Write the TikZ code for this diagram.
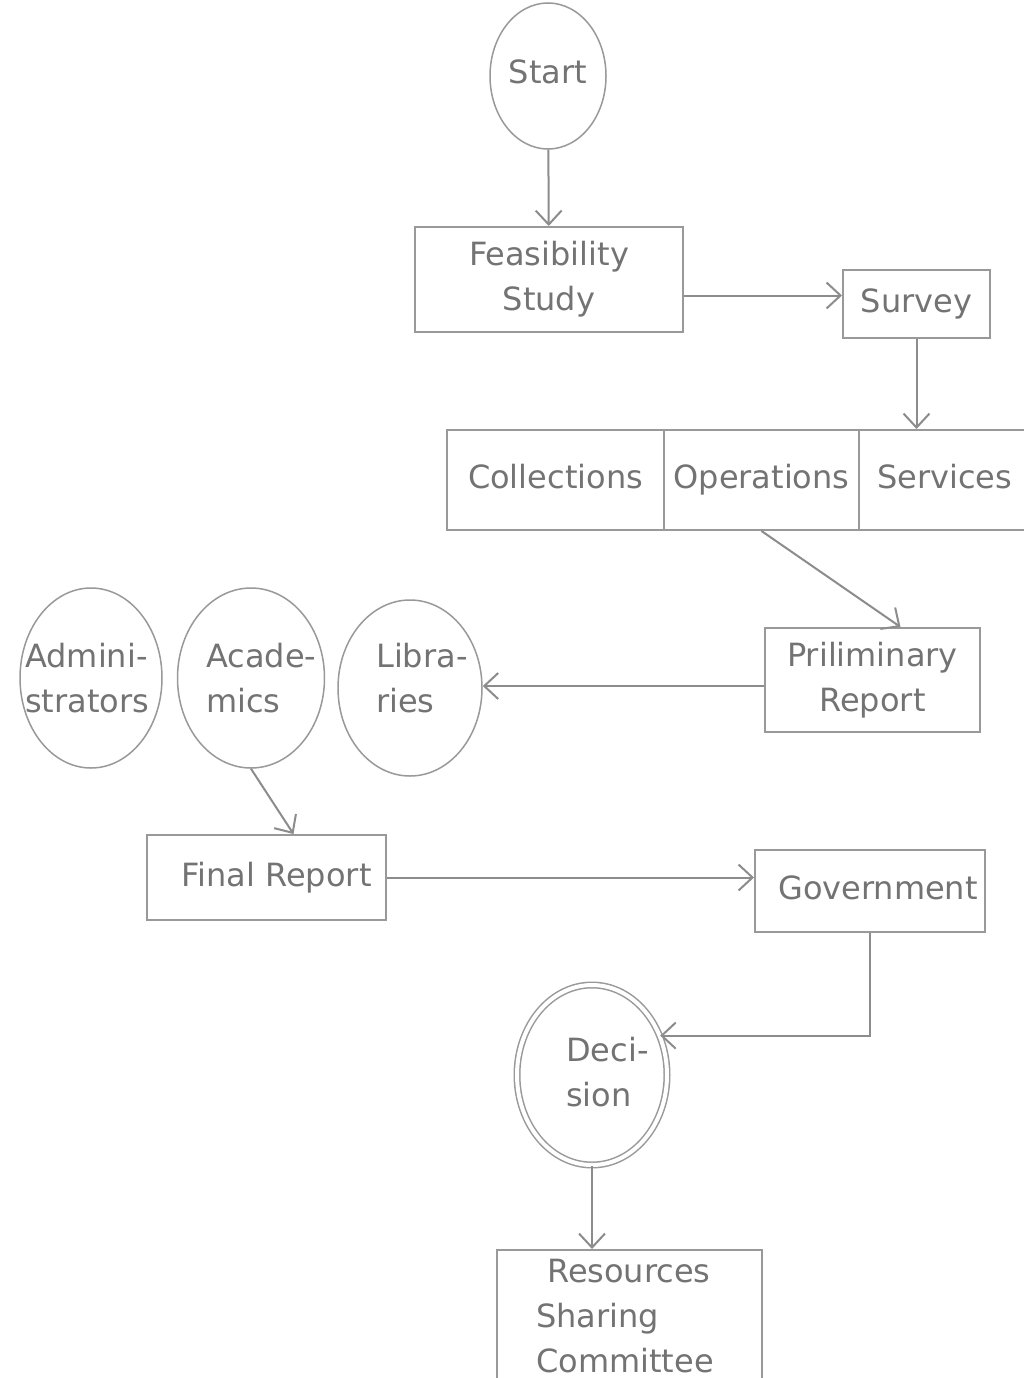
\documentclass[tikz,border=0pt]{standalone}
\usepackage{fontspec}
\setmainfont{DejaVu Sans}
\usetikzlibrary{shapes.geometric,arrows.meta}
\begin{document}
\begin{tikzpicture}[x=1pt,y=-1pt,
  lbl/.style={font=\fontsize{32}{45}\selectfont, text=black!55, inner sep=0pt, align=left},
  box/.style={draw=black!40, line width=2pt, rectangle, inner sep=0pt, align=center,
              font=\fontsize{32}{45}\selectfont, text=black!55},
  oneline/.style={text height=24pt, text depth=7pt},
  oval/.style={draw=black!40, line width=1.5pt, ellipse, inner sep=0pt},
  arr/.style={draw=black!45, line width=2pt, -{Straight Barb[length=14pt,width=26pt]}}]
\useasboundingbox (0,0) rectangle (1024,1378);
\fill[white] (0,0) rectangle (1024,1378);

% nodes
\node[oval, minimum width=116pt, minimum height=146pt] (start) at (548,76) {};
\node[lbl] (startt) at (548,72) {Start};

\node[box, minimum width=268pt, minimum height=105pt] (feas) at (549,279.5) {Feasibility\\Study};
\node[box, oneline, minimum width=147pt, minimum height=68pt] (survey) at (916.5,304) {Survey};

\node[box, oneline, minimum width=217pt, minimum height=100pt] (coll) at (555.5,480) {Collections};
\node[box, oneline, minimum width=195pt, minimum height=100pt] (ops) at (761.5,480) {Operations};
\node[box, oneline, minimum width=171pt, minimum height=100pt] (serv) at (944.5,480) {Services};

\node[box, minimum width=215pt, minimum height=104pt] (prelim) at (872.5,680) {Priliminary\\Report};

\node[oval, minimum width=142pt, minimum height=180pt] (adm) at (91,678) {};
\node[oval, minimum width=147pt, minimum height=180pt] (acad) at (251,678) {};
\node[oval, minimum width=144pt, minimum height=176pt] (lib) at (410,688) {};
\node[lbl, anchor=west] (admt) at (25,678) {Admini-\\strators};
\node[lbl, anchor=west] (acadt) at (206,678) {Acade-\\mics};
\node[lbl, anchor=west] (libt) at (376,678) {Libra-\\ries};

\node[box, oneline, minimum width=239pt, minimum height=85pt] (final) at (266.5,877.5) {\hspace{20pt}Final Report};
\node[box, oneline, minimum width=230pt, minimum height=82pt] (gov) at (870,891) {\hspace{16pt}Government};

\node[oval, double, double distance=4pt, minimum width=150pt, minimum height=180pt] (dec) at (592,1075) {};
\node[lbl, anchor=west] (dect) at (566,1072) {Deci-\\sion};

\node[box, minimum width=265pt, minimum height=150pt] (res) at (629.5,1325) {};
\node[lbl, anchor=west] (rest) at (536,1316) {\hspace{11pt}Resources\\Sharing\\Committee};

% connectors
\draw[arr] (start) -- (feas);
\draw[arr] ([yshift=-16pt]feas.east) -- ([yshift=-16pt]feas.east -| survey.west);
\draw[arr] (survey) -- (survey |- serv.north);
\draw[arr] (ops.south) -- ([xshift=28pt]prelim.north);
\draw[arr] ([yshift=-6pt]prelim.west) -- ([yshift=-6pt]prelim.west -| lib.east);
\draw[arr] (acad.south) -- ([xshift=27pt]final.north);
\draw[arr] (final.east) -- (final.east -| gov.west);
\draw[arr] (gov.south) |- (dec.30);
\draw[arr] (dec.south) -- (dec.south |- res.north);
\end{tikzpicture}
\end{document}
